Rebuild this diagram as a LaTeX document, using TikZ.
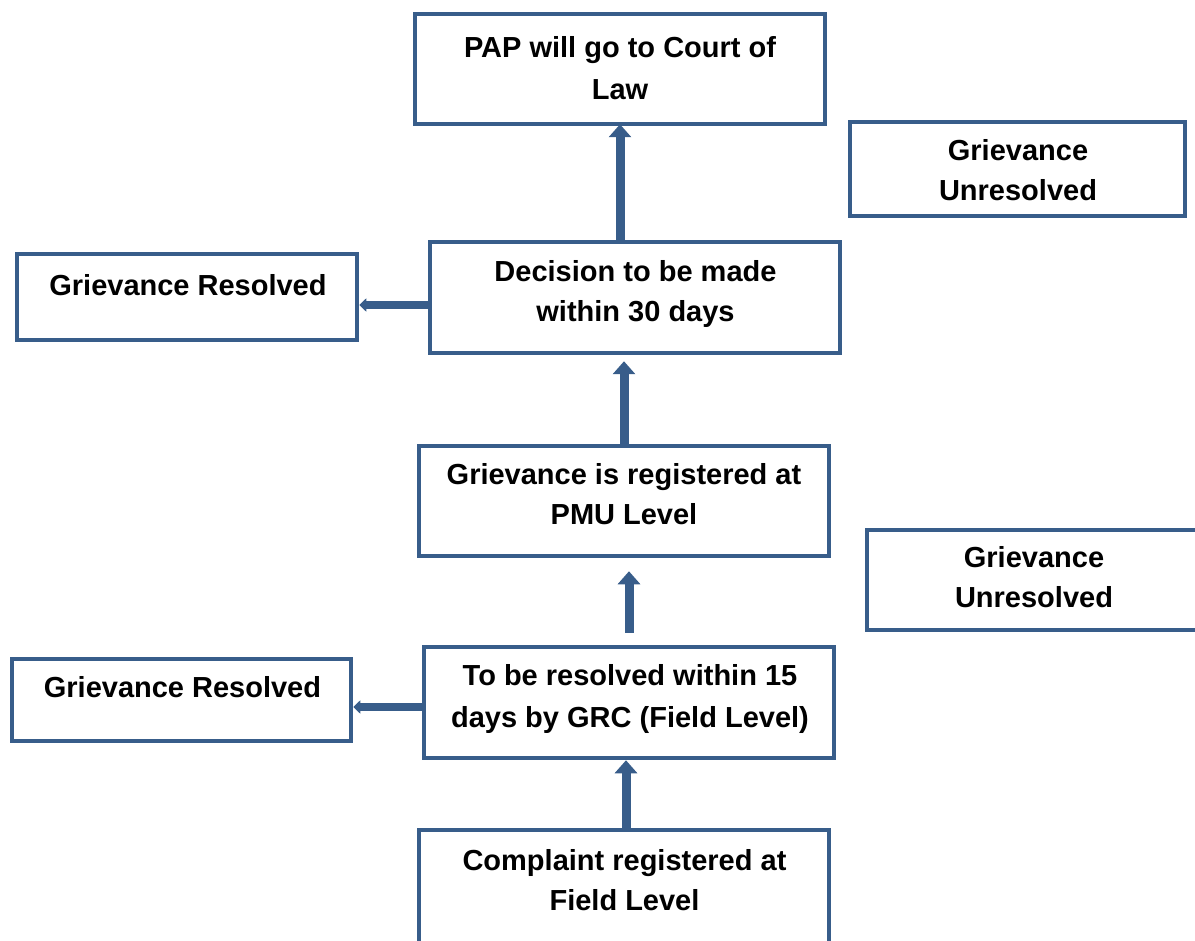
\documentclass[tikz,border=0pt]{standalone}
\usepackage{fontspec}
\setmainfont{Liberation Sans}
\usetikzlibrary{arrows.meta,calc}
\definecolor{boxblue}{RGB}{56,93,138}
\tikzset{
  box/.style={draw=boxblue, line width=4.5pt, rectangle, inner sep=0pt, fill=white},
  txt/.style={align=center, inner sep=0pt, font=\fontsize{29}{40}\selectfont\bfseries, text=black},
  bigarr/.style={draw=boxblue, line width=9pt, -{Triangle[width=22pt,length=13pt]}},
  smallarr/.style={draw=boxblue, line width=8pt, -{Triangle[width=13pt,length=7pt]}}
}
\begin{document}
\begin{tikzpicture}[x=1pt,y=-1pt]
\useasboundingbox (0,0) rectangle (1195,941);
\clip (0,0) rectangle (1195,941);
% boxes
\node[box, minimum width=410pt, minimum height=110pt] (PAP) at (620,69) {};
\node[box, minimum width=335pt, minimum height=94pt] (U1) at (1017.5,169) {};
\node[box, minimum width=340pt, minimum height=86pt] (R1) at (187,297) {};
\node[box, minimum width=410pt, minimum height=111pt] (D) at (635,297.5) {};
\node[box, minimum width=410pt, minimum height=110pt] (P) at (624,501) {};
\node[box, minimum width=348pt, minimum height=100pt] (U2) at (1041,580) {};
\node[box, minimum width=410pt, minimum height=111pt] (F) at (629,702.5) {};
\node[box, minimum width=339pt, minimum height=82pt] (R2) at (181.5,700) {};
\node[box, minimum width=410pt, minimum height=170pt] (C) at (624,915) {};
% texts
\node[txt] (tPAP) at (620,68) {PAP will go to Court of\\[2pt]Law};
\node[txt] (tU1) at (1018,170.5) {Grievance\\Unresolved};
\node[txt] (tR1) at (188,285) {Grievance Resolved};
\node[txt] (tD) at (635.5,294) {Decision to be made\\within 30 days};
\node[txt] (tP) at (624,494.5) {Grievance is registered at\\PMU Level};
\node[txt] (tU2) at (1034,577) {Grievance\\Unresolved};
\node[txt] (tR2) at (182.5,687) {Grievance Resolved};
\node[txt] (tF) at (630,699) {To be resolved within 15\\[2pt]days by GRC (Field Level)};
\node[txt] (tC) at (624.5,880) {Complaint registered at\\Field Level};
% connectors
\draw[bigarr, shorten >=-2pt] (D.north -| PAP.south) -- (PAP.south);
\draw[bigarr, shorten >=6pt] (P.north) -- (P.north |- D.south);
\draw[bigarr, shorten <=12pt, shorten >=13pt] (F.north) -- (F.north |- P.south);
\draw[bigarr] ([xshift=2pt]C.north) -- ([xshift=2pt]C.north |- F.south);
\draw[smallarr] ([yshift=-7.5pt]D.west) -- ([yshift=-7.5pt]D.west -| R1.east);
\draw[smallarr] ([yshift=-4.5pt]F.west) -- ([yshift=-4.5pt]F.west -| R2.east);
\end{tikzpicture}
\end{document}
